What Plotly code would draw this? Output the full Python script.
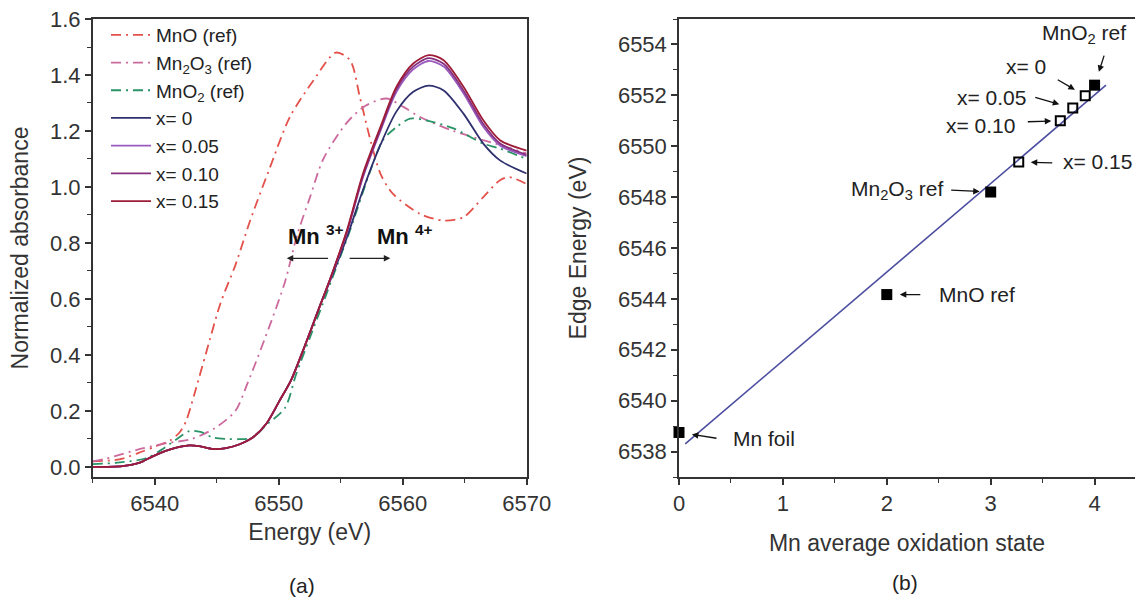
import plotly.graph_objects as go

# ---------------- panel (a): XANES spectra ----------------
E_MnO = [6535, 6537.15, 6539, 6540.1, 6541.2, 6542, 6542.5, 6543.2, 6544.2, 6545.3, 6546.5,
         6547.7, 6549.3, 6550.9, 6552.8, 6554.6, 6555.75, 6556.55, 6557.4, 6558.2, 6559.2,
         6561.4, 6563.3, 6564.9, 6566.5, 6567.85, 6568.6, 6570]
A_MnO = [0.02, 0.027, 0.055, 0.074, 0.093, 0.123, 0.16, 0.26, 0.416, 0.584, 0.72,
         0.88, 1.07, 1.25, 1.38, 1.48, 1.453, 1.32, 1.167, 1.048, 0.976,
         0.904, 0.88, 0.892, 0.964, 1.024, 1.035, 1.01]

E_Mn2O3 = [6535, 6536.1, 6539, 6541, 6543, 6544.9, 6546.5, 6547.5, 6549.4, 6550.5, 6551.5,
           6552.5, 6553.6, 6555.5, 6557, 6558.7, 6560.05, 6561.4, 6564.1, 6567.85, 6570]
A_Mn2O3 = [0.02, 0.03, 0.066, 0.085, 0.10, 0.14, 0.20, 0.30, 0.52, 0.66, 0.83,
           0.96, 1.10, 1.23, 1.29, 1.316, 1.286, 1.25, 1.20, 1.15, 1.12]

E_MnO2 = [6535, 6537, 6539.3, 6540.5, 6541.8, 6542.8, 6543.7, 6544.7, 6545.8, 6546.8, 6547.9,
          6549, 6550.5, 6551.4, 6552.5, 6553.7, 6554.3, 6555.75, 6557.4, 6558.4, 6559.5,
          6560.6, 6561.9, 6564.1, 6566.5, 6567.85, 6570]
A_MnO2 = [0.01, 0.015, 0.031, 0.06, 0.10, 0.128, 0.125, 0.105, 0.10, 0.099, 0.105,
          0.15, 0.21, 0.33, 0.46, 0.60, 0.672, 0.845, 1.059, 1.167, 1.214,
          1.244, 1.238, 1.209, 1.155, 1.137, 1.10]

E_samples = [6535, 6537.4, 6538.8, 6539.8, 6541.2, 6542.8, 6543.6, 6544.7, 6545.75, 6546.8,
             6547.9, 6549, 6550.05, 6551, 6552, 6553.4, 6554.15, 6555.5, 6556.8, 6558.2,
             6559.5, 6560.85, 6562.1, 6563.3, 6564.9, 6566.5, 6567.85, 6570]
A_x000 = [0.0, 0.003, 0.015, 0.037, 0.062, 0.077, 0.074, 0.064, 0.067, 0.08,
          0.105, 0.154, 0.235, 0.31, 0.42, 0.584, 0.665, 0.82, 0.99, 1.15,
          1.27, 1.34, 1.362, 1.345, 1.262, 1.155, 1.095, 1.048]
A_x005 = [0.0, 0.003, 0.015, 0.037, 0.062, 0.077, 0.074, 0.064, 0.067, 0.08,
          0.105, 0.154, 0.235, 0.31, 0.42, 0.584, 0.67, 0.838, 1.035, 1.20,
          1.34, 1.42, 1.45, 1.43, 1.335, 1.215, 1.148, 1.11]
A_x010 = [0.0, 0.003, 0.015, 0.037, 0.062, 0.077, 0.074, 0.064, 0.067, 0.08,
          0.105, 0.154, 0.235, 0.31, 0.42, 0.584, 0.671, 0.84, 1.04, 1.205,
          1.35, 1.43, 1.46, 1.44, 1.345, 1.225, 1.155, 1.115]
A_x015 = [0.0, 0.003, 0.015, 0.037, 0.062, 0.077, 0.074, 0.064, 0.067, 0.08,
          0.105, 0.154, 0.235, 0.31, 0.42, 0.584, 0.672, 0.845, 1.048, 1.214,
          1.358, 1.441, 1.471, 1.453, 1.358, 1.238, 1.167, 1.13]

# ---------------- panel (b): edge energy vs oxidation state ----------------
ref_labels = ["Mn foil", "MnO ref", "Mn<sub>2</sub>O<sub>3</sub> ref", "MnO<sub>2</sub> ref"]
ref_ox = [0, 2, 3, 4]
ref_edge = [6538.75, 6544.17, 6548.2, 6552.4]
sample_labels = ["x= 0", "x= 0.05", "x= 0.10", "x= 0.15"]
sample_ox = [3.91, 3.79, 3.67, 3.27]
sample_edge = [6551.98, 6551.5, 6551.0, 6549.38]
fit_ox = [0.06, 4.11]
fit_edge = [6538.3, 6552.4]

FONT = "Liberation Sans, Arial, sans-serif"
DD = "10px,5px,2px,5px"

fig = go.Figure()

def add_spec(E, A, name, color, dash, width):
    fig.add_trace(go.Scatter(x=E, y=A, name=name, mode="lines",
                             line=dict(color=color, dash=dash, width=width,
                                       shape="spline", smoothing=0.8),
                             xaxis="x", yaxis="y"))

add_spec(E_MnO, A_MnO, "MnO (ref)", "#e4504a", DD, 1.8)
add_spec(E_Mn2O3, A_Mn2O3, "Mn<sub>2</sub>O<sub>3</sub> (ref)", "#cc6a9e", DD, 1.8)
add_spec(E_MnO2, A_MnO2, "MnO<sub>2</sub> (ref)", "#2a9467", DD, 1.8)
add_spec(E_samples, A_x000, "x= 0", "#2f306e", "solid", 1.8)
add_spec(E_samples, A_x005, "x= 0.05", "#9a5bbf", "solid", 1.8)
add_spec(E_samples, A_x010, "x= 0.10", "#84307f", "solid", 1.8)
add_spec(E_samples, A_x015, "x= 0.15", "#9e1c38", "solid", 1.8)

fig.add_trace(go.Scatter(x=fit_ox, y=fit_edge, mode="lines", showlegend=False,
                         line=dict(color="#4b4ea0", width=1.6), xaxis="x2", yaxis="y2"))
fig.add_trace(go.Scatter(x=ref_ox, y=ref_edge, mode="markers", showlegend=False, cliponaxis=False,
                         marker=dict(symbol="square", size=11, color="black"),
                         xaxis="x2", yaxis="y2"))
fig.add_trace(go.Scatter(x=sample_ox, y=sample_edge, mode="markers", showlegend=False,
                         cliponaxis=False,
                         marker=dict(symbol="square-open", size=9, color="black",
                                     line=dict(width=2, color="black")),
                         xaxis="x2", yaxis="y2"))

annots = []
# arrow (ax, ay, standoff) and text (xshift, yshift, xanchor) for each labelled point
ref_style = [(39, 6, 13, 52, -6, "left"),
             (35, 0, 13, 50, 0, "left"),
             (-41, -2, 11, -46, 2, "right"),
             (10, -31, 14, -55, 51, "left")]
sample_style = [(-29, -17, 12, -81, 29, "left"),
                (-39, -11, 14, -45, 11, "right"),
                (-34, 1, 9, -43, -5, "right"),
                (35, 1, 12, 42, 0, "left")]
for labels, xs, ys, styles in [(ref_labels, ref_ox, ref_edge, ref_style),
                               (sample_labels, sample_ox, sample_edge, sample_style)]:
    for lab, xv, yv, st in zip(labels, xs, ys, styles):
        ax_, ay_, so, xs_, ys_, xa = st
        annots.append(dict(x=xv, y=yv, xref="x2", yref="y2", text="", showarrow=True,
                           ax=ax_, ay=ay_, standoff=so, arrowhead=2, arrowsize=1,
                           arrowwidth=1.3, arrowcolor="#111"))
        annots.append(dict(x=xv, y=yv, xref="x2", yref="y2", text=lab, showarrow=False,
                           xshift=xs_, yshift=ys_, xanchor=xa, yanchor="middle",
                           font=dict(family=FONT, size=21, color="#222")))

# Mn3+ / Mn4+ arrows in panel (a)
annots += [
    dict(x=6550.65, y=0.745, ax=6554.1, ay=0.745, xref="x", yref="y", axref="x", ayref="y",
         text="", showarrow=True, arrowhead=2, arrowsize=1, arrowwidth=1.3, arrowcolor="#222"),
    dict(x=6559.0, y=0.745, ax=6555.6, ay=0.745, xref="x", yref="y", axref="x", ayref="y",
         text="", showarrow=True, arrowhead=2, arrowsize=1, arrowwidth=1.3, arrowcolor="#222"),
    dict(x=6550.6, y=0.83, xref="x", yref="y", xanchor="left", yanchor="middle", showarrow=False,
         text="<b>Mn</b> <sup><b>3+</b></sup>", font=dict(family=FONT, size=22, color="#111")),
    dict(x=6557.75, y=0.83, xref="x", yref="y", xanchor="left", yanchor="middle", showarrow=False,
         text="<b>Mn</b> <sup><b>4+</b></sup>", font=dict(family=FONT, size=22, color="#111")),
    dict(x=301.7 / 1135, y=1 - 585 / 597, xref="paper", yref="paper", showarrow=False,
         xanchor="center", yanchor="middle",
         text="(a)", font=dict(family=FONT, size=21, color="#222")),
    dict(x=905 / 1135, y=1 - 582 / 597, xref="paper", yref="paper", showarrow=False,
         xanchor="center", yanchor="middle",
         text="(b)", font=dict(family=FONT, size=21, color="#222")),
]

ydom = [1 - 477 / 597, 1 - 19 / 597]
axis_common = dict(showline=True, linecolor="#333", linewidth=1.5, ticks="outside",
                   ticklen=6, tickwidth=1.5, tickcolor="#333", showgrid=False, zeroline=False,
                   automargin=False,
                   tickfont=dict(family=FONT, size=22, color="#333"))
TITLE_FONT = dict(family=FONT, size=23, color="#333")

fig.update_layout(
    width=1135, height=597, margin=dict(l=0, r=0, t=0, b=0, autoexpand=False),
    paper_bgcolor="white", plot_bgcolor="white",
    font=dict(family=FONT, color="#333"),
    xaxis=dict(domain=[92.7 / 1135, 526.7 / 1135], range=[6535, 6570], tick0=6540, dtick=10,
               mirror=True, minor=dict(dtick=5, tick0=6535, ticks="outside", ticklen=4,
                                       tickwidth=1.3, tickcolor="#333"),
               title=dict(text="Energy (eV)", font=TITLE_FONT, standoff=9),
               anchor="y", **axis_common),
    yaxis=dict(domain=ydom, range=[-0.036, 1.6], tick0=0, dtick=0.2, tickformat=".1f",
               mirror=True, minor=dict(dtick=0.1, ticks="outside", ticklen=4,
                                       tickwidth=1.3, tickcolor="#333"),
               title=dict(text="Normalized absorbance", font=TITLE_FONT, standoff=15),
               anchor="x", **axis_common),
    xaxis2=dict(domain=[679 / 1135, 1.0], range=[0, 4.389], tick0=0, dtick=1, mirror=True,
                minor=dict(dtick=0.5, ticks="outside", ticklen=4, tickwidth=1.3,
                           tickcolor="#333"),
                title=dict(text="Mn average oxidation state", font=TITLE_FONT, standoff=20),
                anchor="y2", **axis_common),
    yaxis2=dict(domain=ydom, range=[6537, 6555], tick0=6538, dtick=2, mirror=False,
                minor=dict(dtick=1, ticks="outside", ticklen=4, tickwidth=1.3,
                           tickcolor="#333"),
                title=dict(text="Edge Energy (eV)", font=TITLE_FONT, standoff=25),
                anchor="x2", **axis_common),
    legend=dict(x=106 / 1135, y=1 - 16 / 597, xanchor="left", yanchor="top",
                bgcolor="rgba(0,0,0,0)", tracegroupgap=0, itemwidth=40,
                font=dict(family=FONT, size=19, color="#222")),
    annotations=annots,
)

fig.write_html("out.html")
